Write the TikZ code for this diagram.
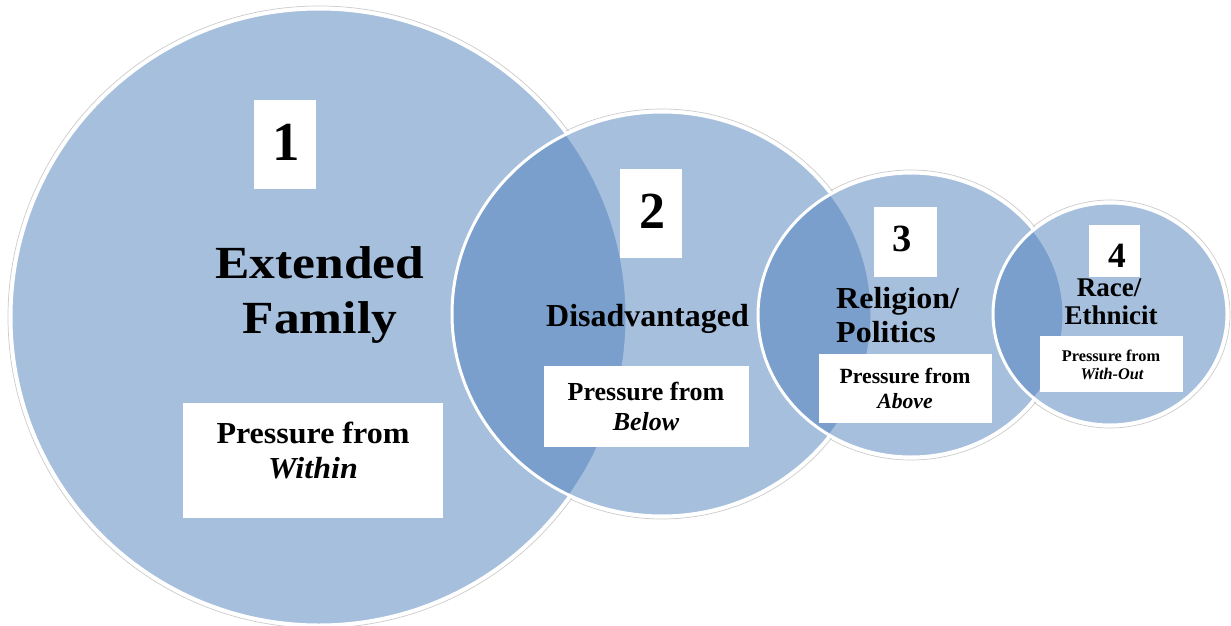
\documentclass[tikz,border=0pt]{standalone}
\usepackage{fontspec}
\setmainfont{Liberation Serif}
\newfontfamily\widefont[FakeStretch=1.12]{Liberation Serif}
\newfontfamily\midfont[FakeStretch=1.05]{Liberation Serif}
\definecolor{accent}{RGB}{79,129,189}
\begin{document}
\begin{tikzpicture}[x=1pt,y=-1pt,
  bubble/.style={fill=accent, fill opacity=0.5, draw=white, line width=3pt},
  halo/.style={draw=black!20, line width=0.7pt},
  under/.style={fill=white},
  whitebox/.style={fill=white, draw=none, inner sep=0pt},
  lbl/.style={anchor=base, inner sep=0pt, font=\bfseries},
]
\useasboundingbox (0,0) rectangle (1231,626);
\fill[white] (0,0) rectangle (1231,626);
% circle centres
\coordinate (c1) at (319,317);
\coordinate (c2) at (662,314);
\coordinate (c3) at (911,315);
\coordinate (c4) at (1110,314);
% soft outer rings
\path[halo] (c1) ellipse [x radius=311pt, y radius=311pt];
\path[halo] (c2) ellipse [x radius=213pt, y radius=205pt];
\path[halo] (c3) ellipse [x radius=156pt, y radius=145pt];
\path[halo] (c4) ellipse [x radius=120pt, y radius=114pt];
% opaque white underlay
\path[under] (c1) ellipse [x radius=308pt, y radius=308pt];
\path[under] (c2) ellipse [x radius=210pt, y radius=202pt];
\path[under] (c3) ellipse [x radius=153pt, y radius=142pt];
\path[under] (c4) ellipse [x radius=117pt, y radius=111pt];
% translucent bubbles
\path[bubble] (c1) ellipse [x radius=308pt, y radius=308pt];
\path[bubble] (c2) ellipse [x radius=210pt, y radius=202pt];
\path[bubble] (c3) ellipse [x radius=153pt, y radius=142pt];
\path[bubble] (c4) ellipse [x radius=117pt, y radius=111pt];

% number boxes
\node[whitebox, minimum width=62pt, minimum height=89pt] (n1box) at (285,144.5) {};
\node[whitebox, minimum width=62pt, minimum height=89pt] (n2box) at (651,213.5) {};
\node[whitebox, minimum width=63pt, minimum height=70pt] (n3box) at (905.5,242) {};
\node[whitebox, minimum width=51pt, minimum height=52pt] (n4box) at (1114.5,251) {};
\node[lbl, font=\bfseries\fontsize{55}{55}\selectfont] (n1) at (286,160) {1};
\node[lbl, font=\bfseries\fontsize{52}{52}\selectfont] (n2) at (652,228) {2};
\node[lbl, font=\bfseries\fontsize{38.5}{38.5}\selectfont] (n3) at (902,251) {3};
\node[lbl, font=\bfseries\fontsize{35.5}{35.5}\selectfont] (n4) at (1117,267) {4};

% pressure boxes
\node[whitebox, minimum width=260pt, minimum height=115pt] (p1box) at (313,460.5) {};
\node[whitebox, minimum width=205pt, minimum height=81pt] (p2box) at (646.5,406.5) {};
\node[whitebox, minimum width=173pt, minimum height=69pt] (p3box) at (905.5,388.5) {};
\node[whitebox, minimum width=143pt, minimum height=56pt] (p4box) at (1111.5,364) {};

% main labels
\node[lbl, font=\widefont\bfseries\fontsize{46}{46}\selectfont] (t1a) at (320,278) {Extended};
\node[lbl, font=\widefont\bfseries\fontsize{46}{46}\selectfont] (t1b) at (320,333) {Family};
\node[lbl, font=\bfseries\fontsize{32}{32}\selectfont] (t2) at (647.5,326) {Disadvantaged};
\node[lbl, anchor=base west, font=\midfont\bfseries\fontsize{30.5}{30.5}\selectfont] (t3a) at (836,308) {Religion/};
\node[lbl, anchor=base west, font=\midfont\bfseries\fontsize{30.5}{30.5}\selectfont] (t3b) at (836,342) {Politics};
\node[lbl, font=\bfseries\fontsize{27}{27}\selectfont] (t4a) at (1109,296) {Race/};
\node[lbl, font=\bfseries\fontsize{27}{27}\selectfont] (t4b) at (1111,324) {Ethnicit};

% pressure texts
\node[lbl, font=\midfont\bfseries\fontsize{30.5}{30.5}\selectfont] (p1a) at (313,443) {Pressure from};
\node[lbl, font=\midfont\bfseries\itshape\fontsize{30.5}{30.5}\selectfont] (p1b) at (313,478) {Within};
\node[lbl, font=\bfseries\fontsize{26}{26}\selectfont] (p2a) at (646,400) {Pressure from};
\node[lbl, font=\bfseries\itshape\fontsize{26}{26}\selectfont] (p2b) at (646,430) {Below};
\node[lbl, font=\bfseries\fontsize{21.7}{21.7}\selectfont] (p3a) at (905,383) {Pressure from};
\node[lbl, font=\bfseries\itshape\fontsize{21.7}{21.7}\selectfont] (p3b) at (905,408) {Above};
\node[lbl, font=\bfseries\fontsize{16.3}{16.3}\selectfont] (p4a) at (1111,361) {Pressure from};
\node[lbl, font=\bfseries\itshape\fontsize{16.3}{16.3}\selectfont] (p4b) at (1112,379) {With-Out};
\end{tikzpicture}
\end{document}
